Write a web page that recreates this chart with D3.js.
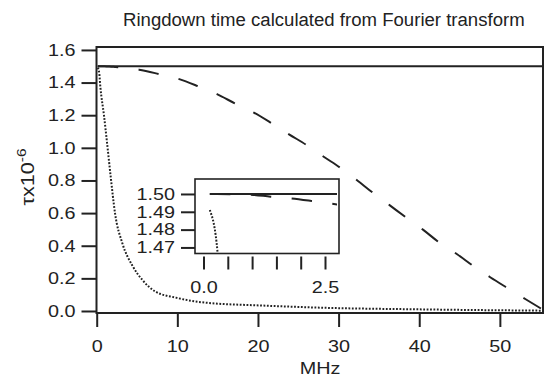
<!DOCTYPE html>
<html><head><meta charset="utf-8">
<script src="https://cdn.jsdelivr.net/npm/d3@7"></script>
<style>body{margin:0;background:#fff}svg{display:block}text{font-family:"Liberation Sans",Arial,sans-serif;fill:#222}</style>
</head><body><svg id="c" width="544" height="379"></svg>
<script>
// ---- data ----
const titleText = "Ringdown time calculated from Fourier transform";
const xLabel = "MHz";
const mainXTicks = [0, 10, 20, 30, 40, 50];
const mainYTicks = [0.0, 0.2, 0.4, 0.6, 0.8, 1.0, 1.2, 1.4, 1.6];
const insetXTicks = [0, 0.5, 1.0, 1.5, 2.0, 2.5];
const insetXLabels = [0, 2.5];
const insetYTicks = [1.47, 1.48, 1.49, 1.50];

const freqSolid = [0.13, 10, 20, 30, 40, 50, 55.4];
const tauSolid  = [1.5, 1.5, 1.5, 1.5, 1.5, 1.5, 1.5];

const freqDashed = [0.13, 0.96, 1.38, 1.81, 2.22, 2.64, 5.26, 7.66, 10.24, 12.55, 14.92, 17.12, 19.49, 21.69, 23.85, 26.0, 28.2, 30.3, 32.4, 33.8, 36.4, 38.45, 40.5, 42.5, 44.7, 46.7, 48.8, 51.0, 53.2, 55.4];
const tauDashed  = [1.5, 1.4996, 1.4985, 1.4975, 1.4961, 1.4945, 1.479, 1.453, 1.421, 1.378, 1.329, 1.273, 1.216, 1.151, 1.083, 1.018, 0.944, 0.875, 0.797, 0.742, 0.646, 0.570, 0.497, 0.419, 0.348, 0.276, 0.207, 0.139, 0.072, 0.006];

const freqDotted = [0.13, 0.29, 0.47, 0.9, 1.31, 1.72, 2.27, 3.18, 4.4, 5.67, 7.25, 9.8, 12.6, 15, 19.7, 28, 40, 55.4];
const tauDotted  = [1.491, 1.467, 1.365, 1.20, 1.018, 0.83, 0.60, 0.415, 0.28, 0.19, 0.12, 0.082, 0.056, 0.045, 0.035, 0.02, 0.01, 0.002];

// ---- layout ----
const svg = d3.select("#c");
const ink = "#222";
const FS = 16.5, SX = 1.2;   // tick font size and horizontal stretch of the reference lettering
const M = {l: 96.5, r: 543, t: 47, b: 313};
const x = d3.scaleLinear().domain([-0.025, 55.35]).range([M.l, M.r]);
const y = d3.scaleLinear().domain([-0.0123, 1.618]).range([M.b, M.t]);

const series = [
  {fx: freqSolid, fy: tauSolid, dash: null, w: 2},
  {fx: freqDashed, fy: tauDashed, dash: "20.5,20.5", w: 2},
  {fx: freqDotted, fy: tauDotted, dash: "1.8,1.6", w: 2}
];

const defs = svg.append("defs");
defs.append("clipPath").attr("id", "clipMain").append("rect")
  .attr("x", M.l).attr("y", M.t).attr("width", M.r - M.l).attr("height", M.b - M.t);

function drawSeries(g, xs, ys, clip) {
  const gg = g.append("g").attr("clip-path", `url(#${clip})`);
  series.forEach(s => {
    const pts = s.fx.map((v, i) => [v, s.fy[i]]);
    gg.append("path").datum(pts)
      .attr("d", d3.line().x(d => xs(d[0])).y(d => ys(d[1])).curve(d3.curveMonotoneX))
      .attr("fill", "none").attr("stroke", ink).attr("stroke-width", s.w)
      .attr("stroke-dasharray", s.dash);
  });
}
function styleAxis(g) {
  g.select(".domain").remove();
  g.selectAll(".tick line").attr("stroke", ink).attr("stroke-width", 2);
  g.selectAll(".tick text").attr("font-size", FS).attr("fill", ink)
    .style("font-family", '"Liberation Sans", Arial, sans-serif')
    .each(function () {
      const t = d3.select(this);
      const x0 = +t.attr("x") || 0;
      t.attr("x", x0 / SX).attr("transform", `scale(${SX},1)`);
    });
}

// main curves
drawSeries(svg, x, y, "clipMain");

// main frame
svg.append("rect").attr("x", M.l).attr("y", M.t).attr("width", M.r - M.l).attr("height", M.b - M.t)
  .attr("fill", "none").attr("stroke", ink).attr("stroke-width", 2);

// main axes
const yAxis = d3.axisLeft(y).tickValues(mainYTicks).tickFormat(d3.format(".1f")).tickSize(15).tickPadding(6);
styleAxis(svg.append("g").attr("transform", `translate(${M.l},0)`).call(yAxis));
const xAxis = d3.axisBottom(x).tickValues(mainXTicks).tickFormat(d3.format("d")).tickSize(14).tickPadding(13);
styleAxis(svg.append("g").attr("transform", `translate(0,${M.b})`).call(xAxis));

// axis labels
svg.append("text").attr("transform", `translate(320,374) scale(${SX},1)`).attr("text-anchor", "middle")
  .attr("font-size", FS).text(xLabel);
const yl = svg.append("text").attr("transform", `translate(34,177) rotate(-90) scale(${SX},1)`)
  .attr("text-anchor", "middle").attr("font-size", 18);
yl.append("tspan").text("\u03c4x10");
yl.append("tspan").attr("font-size", 13).attr("dy", -8).text("-6");

// title (fit to its measured span)
const tt = svg.append("text").attr("x", 123).attr("y", 26).attr("font-size", 16).text(titleText);
const tw = tt.node().getComputedTextLength();
tt.attr("font-size", 16 * 402 / tw);

// ---- inset ----
const I = {l: 195, r: 339, t: 179, b: 253.5};
const xi = d3.scaleLinear().domain([-0.175, 2.788]).range([I.l, I.r]);
const yi = d3.scaleLinear().domain([1.4666, 1.5084]).range([I.b, I.t]);
defs.append("clipPath").attr("id", "clipInset").append("rect")
  .attr("x", I.l + 1).attr("y", I.t + 1).attr("width", I.r - I.l - 3).attr("height", I.b - I.t - 2);
svg.append("rect").attr("x", I.l).attr("y", I.t).attr("width", I.r - I.l).attr("height", I.b - I.t)
  .attr("fill", "#fff");
drawSeries(svg, xi, yi, "clipInset");
svg.append("rect").attr("x", I.l).attr("y", I.t).attr("width", I.r - I.l).attr("height", I.b - I.t)
  .attr("fill", "none").attr("stroke", ink).attr("stroke-width", 1.6);

const yiAxis = d3.axisLeft(yi).tickValues(insetYTicks).tickFormat(d3.format(".2f")).tickSize(14).tickPadding(6);
styleAxis(svg.append("g").attr("transform", `translate(${I.l},0)`).call(yiAxis));
const xiAxis = d3.axisBottom(xi).tickValues(insetXTicks)
  .tickFormat(d => insetXLabels.includes(d) ? d3.format(".1f")(d) : "").tickSize(13).tickPadding(12);
styleAxis(svg.append("g").attr("transform", `translate(0,${I.b + 3})`).call(xiAxis));
</script></body></html>
